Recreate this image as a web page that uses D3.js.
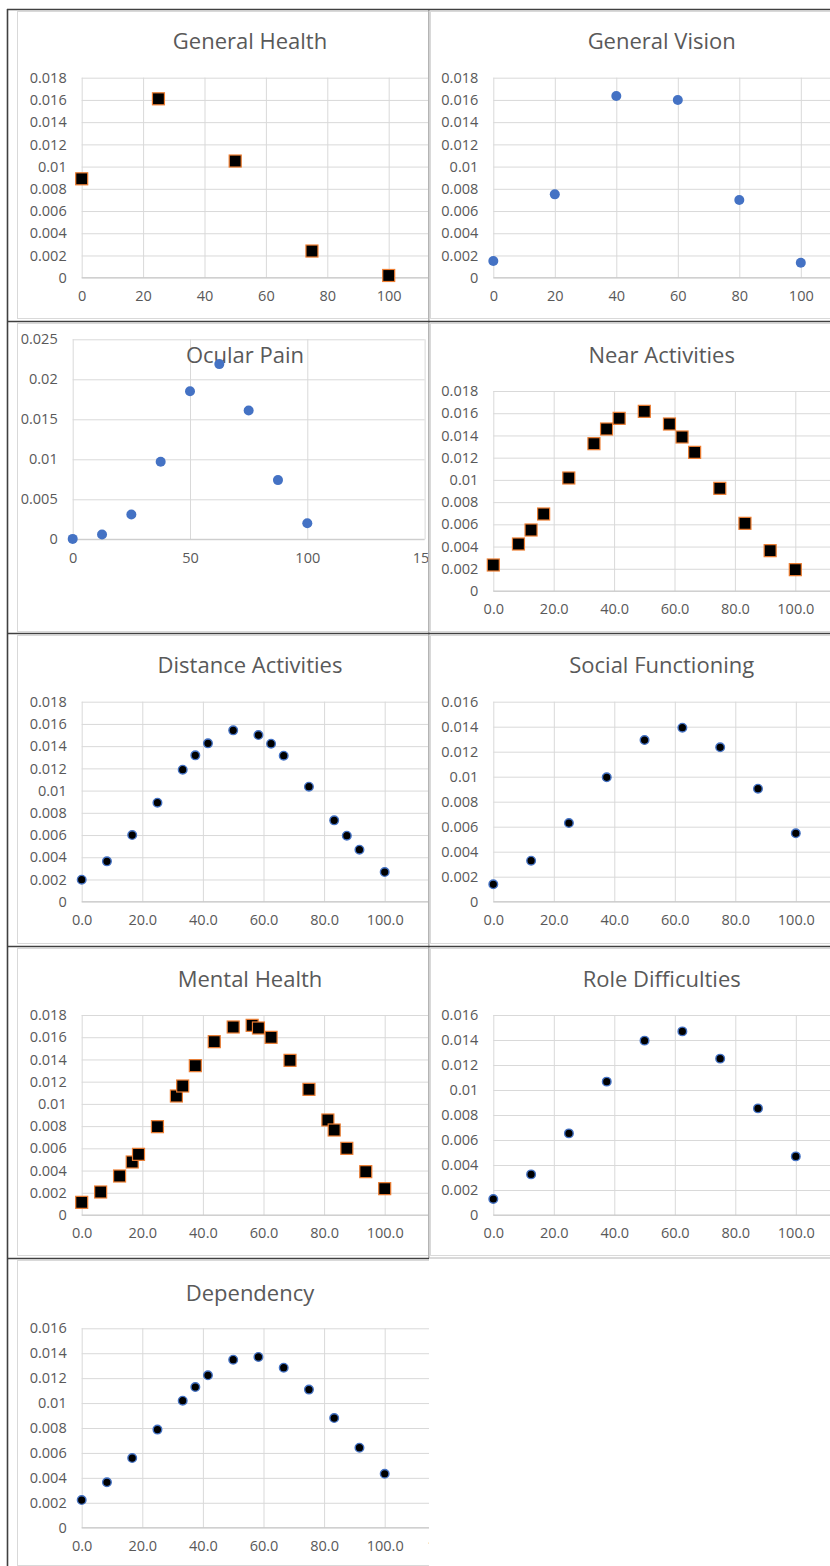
<!DOCTYPE html>
<html>
<head>
<meta charset="utf-8">
<script src="https://cdn.jsdelivr.net/npm/d3@7/dist/d3.min.js"></script>
<style>
  html, body { margin: 0; padding: 0; background: #fff; }
  svg { display: block; }
  text { font-family: "Open Sans", "Noto Sans", sans-serif; fill: #595959; }
</style>
</head>
<body>
<svg id="chart" width="830" height="1566"></svg>
<script>
// ---- Data: score (x) and density (y) for each subscale ----
const generalHealthX = [0, 25, 50, 75, 100];
const generalHealthY = [0.0089, 0.0161, 0.0105, 0.0024, 0.0002];

const generalVisionX = [0, 20, 40, 60, 80, 100];
const generalVisionY = [0.0015, 0.0075, 0.01635, 0.0160, 0.0070, 0.00135];

const ocularPainX = [0, 12.5, 25, 37.5, 50, 62.5, 75, 87.5, 100];
const ocularPainY = [0.00005, 0.0006, 0.0031, 0.0097, 0.0185, 0.0219, 0.0161, 0.0074, 0.0020];

const nearActivitiesX = [0, 8.33, 12.5, 16.67, 25, 33.33, 37.5, 41.67, 50, 58.33, 62.5, 66.67, 75, 83.33, 91.67, 100];
const nearActivitiesY = [0.00234, 0.00423, 0.00549, 0.00693, 0.01017, 0.01326, 0.01458, 0.01554, 0.01617, 0.01503, 0.01386, 0.01248, 0.00924, 0.00609, 0.00363, 0.00192];

const distanceActivitiesX = [0, 8.33, 16.67, 25, 33.33, 37.5, 41.67, 50, 58.33, 62.5, 66.67, 75, 83.33, 87.5, 91.67, 100];
const distanceActivitiesY = [0.00198, 0.00363, 0.0060, 0.00891, 0.01188, 0.01317, 0.01425, 0.01542, 0.0150, 0.01422, 0.01314, 0.01035, 0.00732, 0.00594, 0.00468, 0.00267];

const socialFunctioningX = [0, 12.5, 25, 37.5, 50, 62.5, 75, 87.5, 100];
const socialFunctioningY = [0.00139, 0.00328, 0.00629, 0.00995, 0.01293, 0.01392, 0.01235, 0.00904, 0.00547];

const mentalHealthX = [0, 6.25, 12.5, 16.67, 18.75, 25, 31.25, 33.33, 37.5, 43.75, 50, 56.25, 58.33, 62.5, 68.75, 75, 81.25, 83.33, 87.5, 93.75, 100];
const mentalHealthY = [0.00114, 0.00207, 0.00351, 0.00477, 0.00546, 0.00795, 0.01071, 0.01161, 0.01344, 0.0156, 0.01692, 0.01707, 0.01683, 0.01599, 0.01392, 0.01131, 0.00855, 0.00765, 0.0060, 0.0039, 0.00237];

const roleDifficultiesX = [0, 12.5, 25, 37.5, 50, 62.5, 75, 87.5, 100];
const roleDifficultiesY = [0.00128, 0.00325, 0.00653, 0.01067, 0.01395, 0.01469, 0.01251, 0.00853, 0.00469];

const dependencyX = [0, 8.33, 16.67, 25, 33.33, 37.5, 41.67, 50, 58.33, 66.67, 75, 83.33, 91.67, 100];
const dependencyY = [0.00222, 0.00364, 0.00559, 0.00787, 0.01019, 0.01129, 0.01223, 0.01348, 0.0137, 0.01284, 0.01108, 0.0088, 0.00642, 0.00433];

// ---- Tick values ----
const xTicksLeft = [0, 20, 40, 60, 80, 100, 120];
const xTicksRight = [0, 20, 40, 60, 80, 100];
const xTicks50 = [0, 50, 100, 150];
const yTicks018 = [0, 0.002, 0.004, 0.006, 0.008, 0.01, 0.012, 0.014, 0.016, 0.018];
const yTicks016 = [0, 0.002, 0.004, 0.006, 0.008, 0.01, 0.012, 0.014, 0.016];
const yTicks025 = [0, 0.005, 0.01, 0.015, 0.02, 0.025];

// ---- Panel layout ----
const fmtInt = d => String(d);
const fmtOne = d => d.toFixed(1);
const fmtGeneral = d => String(+d.toFixed(4));

const panels = [
  { title: "General Health", xs: generalHealthX, ys: generalHealthY, marker: "square",
    cell: [17, 11, 429, 319], titleX: 250, titleY: 40,
    left: 81.7, top: 77.7, height: 200, pxPerUnit: 3.07, xMax: 120,
    xTicks: xTicksLeft, yTicks: yTicks018, xFmt: fmtInt },
  { title: "General Vision", xs: generalVisionX, ys: generalVisionY, marker: "blue",
    cell: [430, 11, 830, 319], titleX: 661.7, titleY: 40,
    left: 493.3, top: 77.7, height: 200, pxPerUnit: 3.075, xMax: 120,
    xTicks: xTicksRight, yTicks: yTicks018, xFmt: fmtInt },
  { title: "Ocular Pain", xs: ocularPainX, ys: ocularPainY, marker: "blue",
    cell: [17, 323, 429, 632], titleX: 245, titleY: 353.5,
    left: 72.7, top: 339.3, height: 200, pxPerUnit: 2.346, xMax: 150,
    xTicks: xTicks50, yTicks: yTicks025, xFmt: fmtInt },
  { title: "Near Activities", xs: nearActivitiesX, ys: nearActivitiesY, marker: "square",
    cell: [430, 323, 830, 632], titleX: 661.7, titleY: 354,
    left: 493.3, top: 391, height: 200, pxPerUnit: 3.02, xMax: 120,
    xTicks: xTicksRight, yTicks: yTicks018, xFmt: fmtOne },
  { title: "Distance Activities", xs: distanceActivitiesX, ys: distanceActivitiesY, marker: "dot",
    cell: [17, 635, 429, 944], titleX: 250, titleY: 664.3,
    left: 81.7, top: 701.7, height: 200, pxPerUnit: 3.03, xMax: 120,
    xTicks: xTicksLeft, yTicks: yTicks018, xFmt: fmtOne },
  { title: "Social Functioning", xs: socialFunctioningX, ys: socialFunctioningY, marker: "dot",
    cell: [430, 635, 830, 944], titleX: 661.7, titleY: 664.3,
    left: 493.3, top: 701.7, height: 200, pxPerUnit: 3.025, xMax: 120,
    xTicks: xTicksRight, yTicks: yTicks016, xFmt: fmtOne },
  { title: "Mental Health", xs: mentalHealthX, ys: mentalHealthY, marker: "square",
    cell: [17, 948, 429, 1256], titleX: 250, titleY: 977.7,
    left: 81.7, top: 1015, height: 200, pxPerUnit: 3.03, xMax: 120,
    xTicks: xTicksLeft, yTicks: yTicks018, xFmt: fmtOne },
  { title: "Role Difficulties", xs: roleDifficultiesX, ys: roleDifficultiesY, marker: "dot",
    cell: [430, 948, 830, 1256], titleX: 661.7, titleY: 978.3,
    left: 493.3, top: 1015, height: 200, pxPerUnit: 3.025, xMax: 120,
    xTicks: xTicksRight, yTicks: yTicks016, xFmt: fmtOne },
  { title: "Dependency", xs: dependencyX, ys: dependencyY, marker: "dot",
    cell: [17, 1260, 429, 1566], titleX: 250, titleY: 1291.7,
    left: 81.7, top: 1328.3, height: 199.4, pxPerUnit: 3.03, xMax: 120,
    xTicks: xTicksLeft, yTicks: yTicks016, xFmt: fmtOne }
];

const svg = d3.select("#chart");
const defs = svg.append("defs");

panels.forEach((p, i) => {
  const [cx0, cy0, cx1, cy1] = p.cell;
  const clipId = "cell-clip-" + i;
  defs.append("clipPath").attr("id", clipId)
    .append("rect").attr("x", cx0).attr("y", cy0).attr("width", cx1 - cx0).attr("height", cy1 - cy0);

  const g = svg.append("g").attr("clip-path", `url(#${clipId})`);

  const yMax = p.yTicks[p.yTicks.length - 1];
  const x = d3.scaleLinear().domain([0, p.xMax]).range([p.left, p.left + p.xMax * p.pxPerUnit]);
  const y = d3.scaleLinear().domain([0, yMax]).range([p.top + p.height, p.top]);
  const plotW = x.range()[1] - x.range()[0];

  // chart-area frame
  g.append("rect")
    .attr("x", cx0 + 0.5).attr("y", cy0 + 0.5)
    .attr("width", cx1 - cx0 + 40).attr("height", cy1 - cy0 - 1)
    .attr("fill", "#fff").attr("stroke", "#d9d9d9").attr("stroke-width", 1);

  // horizontal gridlines + y labels
  const yAxis = d3.axisLeft(y).tickValues(p.yTicks).tickFormat(fmtGeneral)
    .tickSize(-plotW).tickPadding(15);
  const gy = g.append("g").attr("transform", `translate(${p.left},0)`).call(yAxis);
  gy.select(".domain").remove();
  gy.selectAll(".tick line").attr("stroke", "#d9d9d9").attr("stroke-width", 1);
  gy.selectAll(".tick text").attr("font-size", 14.5).attr("fill", "#595959")
    .attr("font-family", "'Open Sans', 'Noto Sans', sans-serif");

  // vertical gridlines + x labels
  const xAxis = d3.axisBottom(x).tickValues(p.xTicks).tickFormat(p.xFmt)
    .tickSize(-p.height).tickPadding(13);
  const gx = g.append("g").attr("transform", `translate(0,${p.top + p.height})`).call(xAxis);
  gx.select(".domain").remove();
  gx.selectAll(".tick line").attr("stroke", "#d9d9d9").attr("stroke-width", 1);
  gx.selectAll(".tick text").attr("font-size", 14.5).attr("fill", "#595959")
    .attr("font-family", "'Open Sans', 'Noto Sans', sans-serif");

  // baseline axis
  g.append("line")
    .attr("x1", p.left).attr("x2", p.left + plotW)
    .attr("y1", y(0)).attr("y2", y(0))
    .attr("stroke", "#c8c8c8").attr("stroke-width", 1);

  // title
  g.append("text")
    .attr("x", p.titleX).attr("y", p.titleY)
    .attr("text-anchor", "middle").attr("dominant-baseline", "central")
    .attr("font-size", 22).attr("fill", "#595959")
    .text(p.title);

  // markers
  const pts = p.xs.map((v, k) => ({ x: v, y: p.ys[k] }));
  if (p.marker === "square") {
    const s = 12;
    g.append("g").selectAll("rect").data(pts).join("rect")
      .attr("x", d => x(d.x) - s / 2).attr("y", d => y(d.y) - s / 2)
      .attr("width", s).attr("height", s)
      .attr("fill", "#000").attr("stroke", "#ed7d31").attr("stroke-width", 1.2);
  } else if (p.marker === "blue") {
    g.append("g").selectAll("circle").data(pts).join("circle")
      .attr("cx", d => x(d.x)).attr("cy", d => y(d.y)).attr("r", 5)
      .attr("fill", "#4472c4");
  } else {
    g.append("g").selectAll("circle").data(pts).join("circle")
      .attr("cx", d => x(d.x)).attr("cy", d => y(d.y)).attr("r", 4.3)
      .attr("fill", "#000").attr("stroke", "#4472c4").attr("stroke-width", 1.4);
  }
});

// ---- Table rules ----
const rules = svg.append("g");
// column divider
rules.append("line").attr("x1", 428.8).attr("x2", 428.8).attr("y1", 9).attr("y2", 1258)
  .attr("stroke", "#b4b4b4").attr("stroke-width", 1.6);
// outer left border
rules.append("line").attr("x1", 7.5).attr("x2", 7.5).attr("y1", 9).attr("y2", 1566)
  .attr("stroke", "#404040").attr("stroke-width", 1.6);
// top border and row separators
[9.5, 321.5, 633.5, 946.5].forEach(yy => {
  rules.append("line").attr("x1", 7).attr("x2", 830).attr("y1", yy).attr("y2", yy)
    .attr("stroke", "#404040").attr("stroke-width", 1.6);
});
rules.append("line").attr("x1", 7).attr("x2", 429).attr("y1", 1258.5).attr("y2", 1258.5)
  .attr("stroke", "#404040").attr("stroke-width", 1.6);
rules.append("line").attr("x1", 429).attr("x2", 830).attr("y1", 1258).attr("y2", 1258)
  .attr("stroke", "#b4b4b4").attr("stroke-width", 1);
</script>
</body>
</html>
